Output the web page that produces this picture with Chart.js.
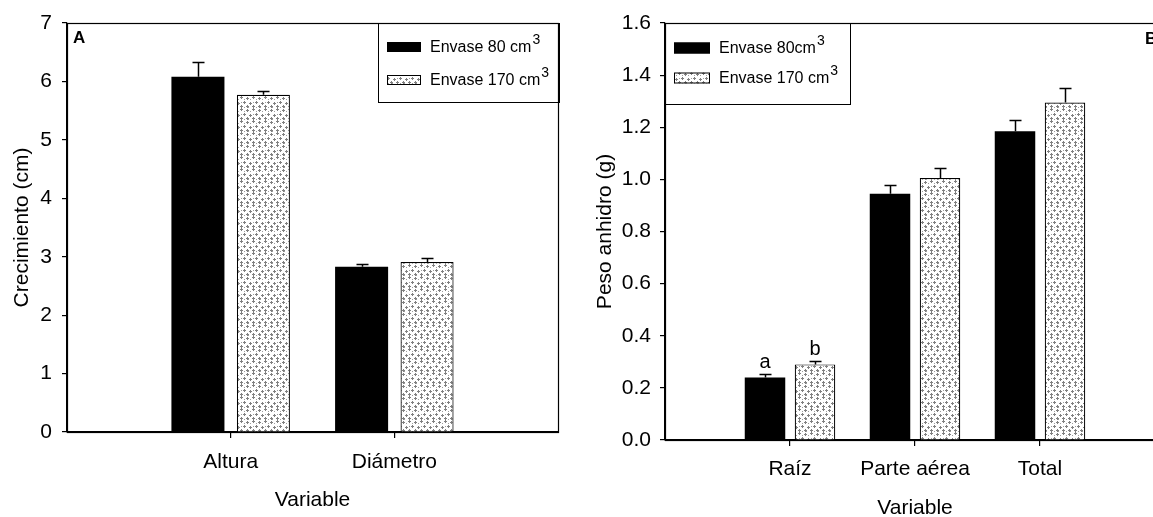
<!DOCTYPE html>
<html>
<head>
<meta charset="utf-8">
<script src="https://cdn.jsdelivr.net/npm/chart.js@4.4.1/dist/chart.umd.min.js"></script>
<style>
  html, body { margin: 0; padding: 0; background: #fff; overflow: hidden; }
  #wrap { position: relative; width: 1153px; height: 517px; overflow: hidden; background: #fff; }
  canvas { position: absolute; top: 0; }
  #cA { left: 0; }
  #cB { left: 570px; }
</style>
</head>
<body>
<div id="wrap">
  <canvas id="cA" width="570" height="517"></canvas>
  <canvas id="cB" width="610" height="530"></canvas>
</div>
<script>
// ---------- DATA ----------
const categoriesA = ['Altura', 'Diámetro'];
const envase80A   = [6.08, 2.83];
const envase170A  = [5.77, 2.91];
const errEnv80A   = [0.25, 0.05];
const errEnv170A  = [0.07, 0.07];
const yTicksA     = [0, 1, 2, 3, 4, 5, 6, 7];

const categoriesB = ['Raíz', 'Parte aérea', 'Total'];
const envase80B   = [0.24, 0.945, 1.185];
const envase170B  = [0.29, 1.005, 1.295];
const errEnv80B   = [0.013, 0.032, 0.042];
const errEnv170B  = [0.013, 0.040, 0.055];
const lettersB80  = ['a', '', ''];
const lettersB170 = ['b', '', ''];
const yTicksB     = [0.0, 0.2, 0.4, 0.6, 0.8, 1.0, 1.2, 1.4, 1.6];

const legendA = ['Envase 80 cm', 'Envase 170 cm'];
const legendB = ['Envase 80cm', 'Envase 170 cm'];

// ---------- HELPERS ----------
const FONT = '"Liberation Sans", Arial, sans-serif';
const FS = 21;
const pad = arr => [null, ...arr, null];

function makePattern(ctx) {
  const t = document.createElement('canvas');
  t.width = 12; t.height = 12;
  const g = t.getContext('2d');
  g.fillStyle = '#fff'; g.fillRect(0, 0, 12, 12);
  g.fillStyle = '#808080';
  const pts = [[0,0],[6,1],[3,5],[9,6],[0,9],[6,9]];
  pts.forEach(([x, y]) => {
    g.fillRect(x + 1, y, 1, 3);
    g.fillRect(x, y + 1, 3, 1);
  });
  g.fillStyle = '#a0a0a0';
  [[4,3],[10,3],[1,6],[8,11],[4,11]].forEach(([x, y]) => g.fillRect(x, y, 1, 1));
  return ctx.createPattern(t, 'repeat');
}

const framePlugin = {
  id: 'frame',
  afterDatasetsDraw(chart, args, opts) {
    const { ctx, chartArea: a } = chart;
    const ys = chart.scales.y;
    ctx.save();
    chart.data.datasets.forEach((ds, i) => {
      const meta = chart.getDatasetMeta(i);
      meta.data.forEach((el, j) => {
        const v = ds.data[j];
        const e = ds.errors ? ds.errors[j] : null;
        if (v == null || e == null) return;
        const yTop = Math.round(ys.getPixelForValue(v + e)) + 0.5;
        const x = Math.round(el.x) + 0.5;
        ctx.strokeStyle = '#000';
        ctx.lineWidth = 1.5;
        ctx.beginPath();
        ctx.moveTo(x, el.y);
        ctx.lineTo(x, yTop);
        ctx.moveTo(x - 6, yTop);
        ctx.lineTo(x + 6, yTop);
        ctx.stroke();
        const L = ds.letters ? ds.letters[j] : '';
        if (L) {
          ctx.fillStyle = '#000';
          ctx.font = '20px ' + FONT;
          ctx.textAlign = 'center';
          ctx.textBaseline = 'alphabetic';
          ctx.fillText(L, el.x, yTop - 7);
        }
      });
    });
    ctx.strokeStyle = '#000';
    ctx.lineWidth = 1.2;
    ctx.strokeRect(Math.round(a.left) + 0.5, Math.round(a.top) + 0.5,
                   Math.round(a.right - a.left), Math.round(a.bottom - a.top));
    const lg = opts.legend;
    if (lg) {
      ctx.lineWidth = 1;
      ctx.strokeRect(lg.x0 + 0.5, lg.y0 + 0.5, lg.x1 - lg.x0, lg.y1 - lg.y0);
      lg.rows.forEach((r, k) => {
        const ds = chart.data.datasets[k];
        ctx.fillStyle = ds.backgroundColor;
        ctx.fillRect(lg.sx, r.y - lg.sh / 2, lg.sw, lg.sh);
        ctx.strokeStyle = '#000';
        ctx.strokeRect(lg.sx + 0.5, r.y - lg.sh / 2 + 0.5, lg.sw - 1, lg.sh - 1);
        ctx.fillStyle = '#000';
        ctx.font = '16px ' + FONT;
        ctx.textAlign = 'left';
        ctx.textBaseline = 'middle';
        ctx.fillText(r.text, lg.tx, r.y + 1);
        const w = ctx.measureText(r.text).width;
        ctx.font = '14px ' + FONT;
        ctx.fillText('3', lg.tx + w + 1, r.y - 7);
      });
    }
    if (opts.panel) {
      ctx.fillStyle = '#000';
      ctx.font = 'bold 17px ' + FONT;
      ctx.textAlign = 'left';
      ctx.textBaseline = 'top';
      ctx.fillText(opts.panel.text, opts.panel.x, opts.panel.y);
    }
    ctx.restore();
  }
};

function buildOptions(cfg) {
  return {
    responsive: false,
    animation: false,
    devicePixelRatio: 1,
    layout: { padding: cfg.padding },
    plugins: {
      legend: { display: false },
      tooltip: { enabled: false },
      frame: cfg.frame
    },
    scales: {
      x: {
        type: 'category',
        offset: false,
        grid: {
          offset: false,
          drawOnChartArea: false,
          drawTicks: true,
          tickLength: 6,
          color: c => (c.tick && c.tick.label) ? '#000' : 'rgba(0,0,0,0)',
          lineWidth: 1.2
        },
        border: { display: true, color: '#000', width: 1.2 },
        ticks: {
          color: '#000',
          font: { family: FONT, size: FS },
          padding: cfg.xTickPad,
          maxRotation: 0,
          autoSkip: false
        },
        title: {
          display: true, text: 'Variable', color: '#000',
          font: { family: FONT, size: FS, lineHeight: 1.2 },
          padding: { top: 0, bottom: cfg.xTitlePad }
        },
        afterFit: s => { s.height = cfg.xHeight; }
      },
      y: {
        min: cfg.yTicks[0],
        max: cfg.yTicks[cfg.yTicks.length - 1],
        afterBuildTicks: s => { s.ticks = cfg.yTicks.map(v => ({ value: v })); },
        grid: {
          drawOnChartArea: false, drawTicks: true, tickLength: 5,
          color: '#000', lineWidth: 1.2
        },
        border: { display: true, color: '#000', width: 1.2 },
        ticks: {
          color: '#000',
          font: { family: FONT, size: FS },
          padding: cfg.yTickPad,
          callback: v => cfg.yFmt(v)
        },
        title: {
          display: true, text: cfg.yTitle, color: '#000',
          font: { family: FONT, size: FS, lineHeight: 1.2 },
          padding: { top: cfg.yTitlePad, bottom: 0 }
        },
        afterFit: s => { s.width = cfg.yWidth; }
      }
    }
  };
}

// ---------- CHART A ----------
const ctxA = document.getElementById('cA').getContext('2d');
const patA = makePattern(ctxA);
new Chart(ctxA, {
  type: 'bar',
  data: {
    labels: ['', ...categoriesA, ''],
    datasets: [
      { label: legendA[0], data: pad(envase80A), errors: pad(errEnv80A),
        backgroundColor: '#000', borderColor: '#000', borderWidth: 0,
        categoryPercentage: 0.8, barPercentage: 0.81 },
      { label: legendA[1], data: pad(envase170A), errors: pad(errEnv170A),
        backgroundColor: patA, borderColor: '#000', borderWidth: 1.2,
        categoryPercentage: 0.8, barPercentage: 0.81 }
    ]
  },
  options: buildOptions({
    padding: { top: 23, right: 11, left: 0, bottom: 0 },
    xHeight: 85, yWidth: 67, xTickPad: 12, xTitlePad: 4, yTickPad: 10, yTitlePad: 10,
    yTicks: yTicksA, yFmt: v => String(v), yTitle: 'Crecimiento (cm)',
    frame: {
      legend: { x0: 378, y0: 23, x1: 559, y1: 102, sx: 387, sw: 34, sh: 10, tx: 430,
                rows: [{ y: 47, text: legendA[0] }, { y: 80, text: legendA[1] }] },
      panel: { text: 'A', x: 73, y: 30 }
    }
  }),
  plugins: [framePlugin]
});

// ---------- CHART B ----------
const ctxB = document.getElementById('cB').getContext('2d');
const patB = makePattern(ctxB);
new Chart(ctxB, {
  type: 'bar',
  data: {
    labels: ['', ...categoriesB, ''],
    datasets: [
      { label: legendB[0], data: pad(envase80B), errors: pad(errEnv80B), letters: pad(lettersB80),
        backgroundColor: '#000', borderColor: '#000', borderWidth: 0,
        categoryPercentage: 0.8, barPercentage: 0.81 },
      { label: legendB[1], data: pad(envase170B), errors: pad(errEnv170B), letters: pad(lettersB170),
        backgroundColor: patB, borderColor: '#000', borderWidth: 1.2,
        categoryPercentage: 0.8, barPercentage: 0.81 }
    ]
  },
  options: buildOptions({
    padding: { top: 23, right: 15, left: 0, bottom: 0 },
    xHeight: 90, yWidth: 95, xTickPad: 11, xTitlePad: 9, yTickPad: 9, yTitlePad: 23,
    yTicks: yTicksB, yFmt: v => Number(v).toFixed(1), yTitle: 'Peso anhidro (g)',
    frame: {
      legend: { x0: 95, y0: 23, x1: 280, y1: 104, sx: 104, sw: 36, sh: 11, tx: 149,
                rows: [{ y: 48, text: legendB[0] }, { y: 78, text: legendB[1] }] },
      panel: { text: 'B', x: 575, y: 31 }
    }
  }),
  plugins: [framePlugin]
});
</script>
</body>
</html>
